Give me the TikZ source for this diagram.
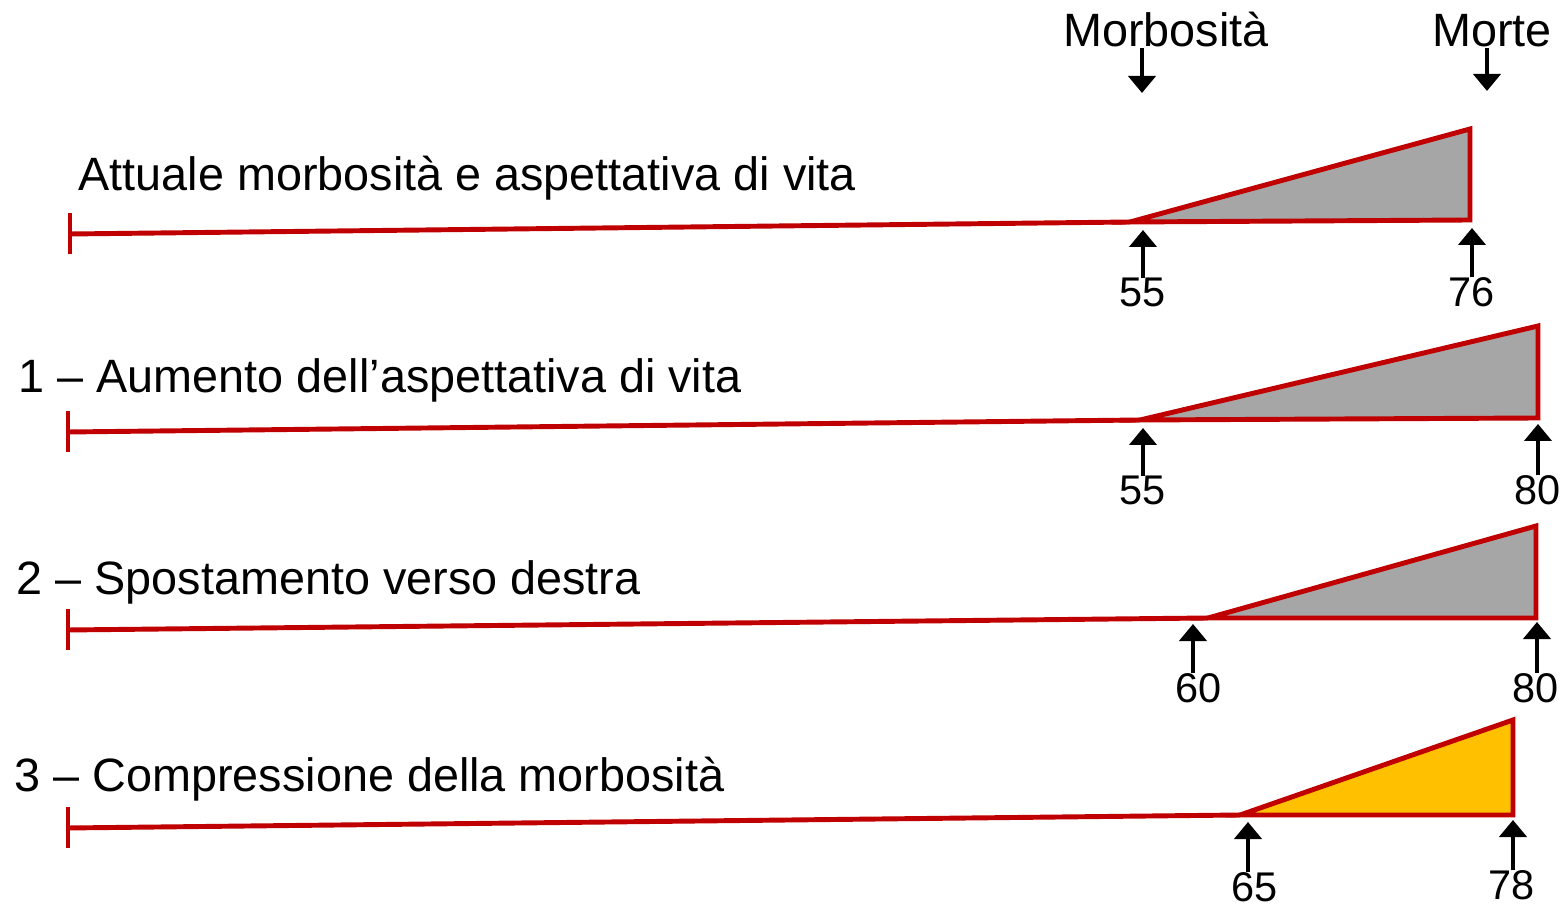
\documentclass[tikz,border=0pt]{standalone}
\usepackage{fontspec}
\setmainfont{Liberation Sans}
\usetikzlibrary{arrows.meta}
\definecolor{lifered}{RGB}{192,0,0}
\definecolor{morbgray}{RGB}{166,166,166}
\definecolor{morbyellow}{RGB}{255,192,0}
\begin{document}
\begin{tikzpicture}[x=0.01cm, y=-0.01cm,
    >={Triangle[width=0.27cm,length=0.17cm]},
    every node/.style={inner sep=0pt},
    title/.style={anchor=base west, font=\fontsize{13.3}{15}\selectfont},
    age/.style={anchor=base, font=\fontsize{11.8}{14}\selectfont},
    life/.style={draw=lifered, line width=1.4pt},
    wedge/.style={draw=lifered, line width=1.4pt, line join=miter},
    agearrow/.style={->, line width=1.4pt}]
    \useasboundingbox (0,0) rectangle (1565,907);

    \node[title, anchor=base] (morb) at (1166,47) {Morbosità};
    \node[title, anchor=base] (morte) at (1492,47) {Morte};
    \coordinate (morbtip) at (1142,93);
    \coordinate (mortetip) at (1487,91);
    \draw[agearrow] (morbtip |- morb.south) -- (morbtip);
    \draw[agearrow] (mortetip |- morte.south) -- (mortetip);

    % attuale
    \node[title] (t0) at (78,191) {Attuale morbosità e aspettativa di vita};
    \coordinate (s0) at (70,234);
    \coordinate (m0) at (1130,222);
    \coordinate (p0) at (1470,129);
    \coordinate (d0) at (1470,220);
    \node[age] (a0) at (1143,307) {55};
    \node[age] (b0) at (1472,307) {76};
    \coordinate (a0tip) at (1143,230);
    \coordinate (b0tip) at (1472,228);

    % 1
    \node[title] (t1) at (18,393) {1 – Aumento dell’aspettativa di vita};
    \coordinate (s1) at (68,432);
    \coordinate (m1) at (1140,420);
    \coordinate (p1) at (1538,326);
    \coordinate (d1) at (1538,418);
    \node[age] (a1) at (1143,505) {55};
    \node[age] (b1) at (1538,505) {80};
    \coordinate (a1tip) at (1143,428);
    \coordinate (b1tip) at (1538,424);

    % 2
    \node[title] (t2) at (16,595) {2 – Spostamento verso destra};
    \coordinate (s2) at (68,630);
    \coordinate (m2) at (1208,618);
    \coordinate (p2) at (1536,526);
    \coordinate (d2) at (1536,618);
    \node[age] (a2) at (1199,703) {60};
    \node[age] (b2) at (1536,703) {80};
    \coordinate (a2tip) at (1193,624);
    \coordinate (b2tip) at (1537,622);

    % 3
    \node[title] (t3) at (14,792) {3 – Compressione della morbosità};
    \coordinate (s3) at (68,828);
    \coordinate (m3) at (1240,815);
    \coordinate (p3) at (1513,720);
    \coordinate (d3) at (1513,815);
    \node[age] (a3) at (1255,902) {65};
    \node[age] (b3) at (1512,900) {78};
    \coordinate (a3tip) at (1248,822);
    \coordinate (b3tip) at (1513,820);

    \foreach \r in {0,1,2,3} {
        \draw[life] ([yshift=0.21cm]s\r) -- ([yshift=-0.2cm]s\r);
        \draw[life] (s\r) -- (m\r);
        \draw[agearrow] (a\r tip |- a\r.north) -- (a\r tip);
        \draw[agearrow] (b\r tip |- b\r.north) -- (b\r tip);
    }
    \foreach \r in {0,1,2} {
        \draw[wedge, fill=morbgray] (m\r) -- (p\r) -- (d\r) -- cycle;
    }
    \draw[wedge, fill=morbyellow] (m3) -- (p3) -- (d3) -- cycle;
\end{tikzpicture}
\end{document}
